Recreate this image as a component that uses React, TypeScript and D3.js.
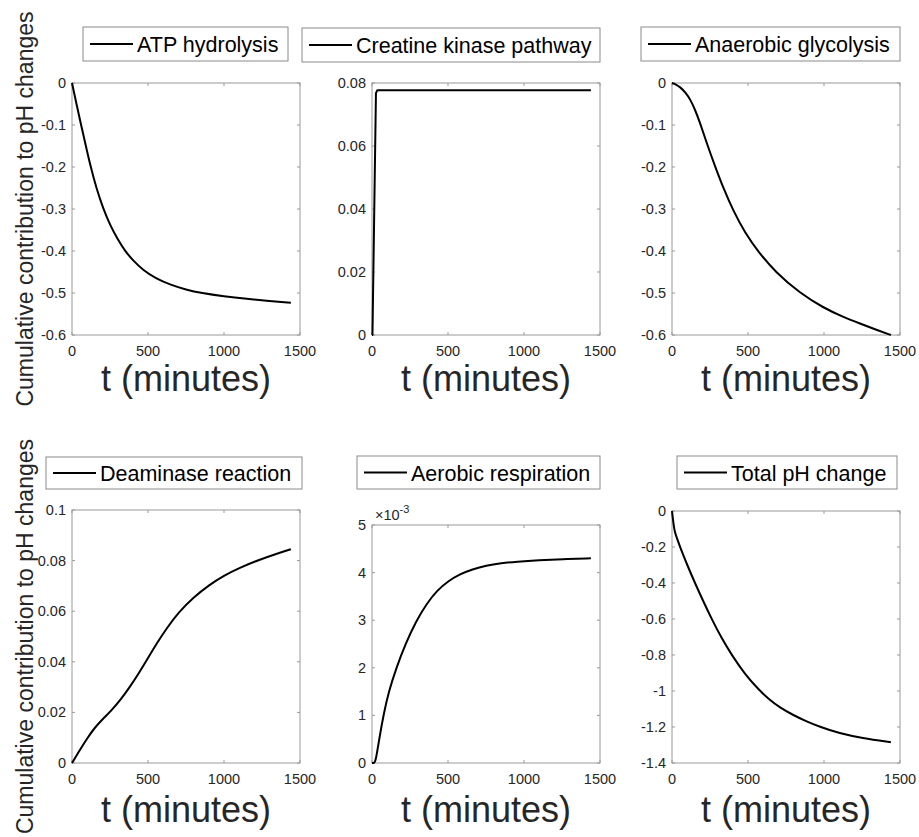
import React from "react";
import * as d3 from "d3";

// ---------- data ----------
const X_TICKS = [0, 500, 1000, 1500];

const T_ATP = [0, 30, 60, 90, 123, 160, 206, 250, 300, 349, 400, 469, 550, 650, 750, 850, 1000, 1150, 1300, 1440];
const V_ATP = [0, -0.051, -0.1, -0.148, -0.2, -0.25, -0.3, -0.338, -0.372, -0.4, -0.422, -0.446, -0.465, -0.481, -0.492, -0.5, -0.508, -0.514, -0.519, -0.523];
const Y_TICKS_ATP = [0, -0.1, -0.2, -0.3, -0.4, -0.5, -0.6];

const T_CK = [0, 3, 26, 35, 300, 700, 1100, 1440];
const V_CK = [0, 0, 0.0768, 0.0777, 0.0777, 0.0777, 0.0777, 0.0777];
const Y_TICKS_CK = [0, 0.02, 0.04, 0.06, 0.08];

const T_GLY = [0, 25, 55, 90, 120, 150, 185, 230, 285, 340, 400, 480, 570, 680, 840, 1000, 1120, 1240, 1340, 1440];
const V_GLY = [0, -0.003, -0.01, -0.023, -0.039, -0.062, -0.095, -0.145, -0.2, -0.252, -0.302, -0.357, -0.403, -0.45, -0.5, -0.536, -0.556, -0.573, -0.587, -0.6];
const Y_TICKS_GLY = [0, -0.1, -0.2, -0.3, -0.4, -0.5, -0.6];

const T_DEA = [0, 50, 100, 150, 200, 260, 320, 380, 440, 500, 560, 620, 700, 800, 900, 1000, 1100, 1230, 1340, 1440];
const V_DEA = [0, 0.005, 0.0098, 0.014, 0.0172, 0.0208, 0.025, 0.03, 0.0355, 0.0415, 0.0475, 0.053, 0.0595, 0.0655, 0.0703, 0.0741, 0.0771, 0.0803, 0.0826, 0.0845];
const Y_TICKS_DEA = [0, 0.02, 0.04, 0.06, 0.08, 0.1];

const T_AER = [0, 15, 25, 50, 75, 110, 160, 220, 290, 360, 430, 500, 580, 660, 750, 850, 950, 1100, 1250, 1440];
const V_AER = [0, 0, 0.00005, 0.00055, 0.001, 0.0015, 0.002, 0.0025, 0.00298, 0.00335, 0.00363, 0.00382, 0.00397, 0.00407, 0.00415, 0.0042, 0.00423, 0.00426, 0.00428, 0.0043];
const Y_TICKS_AER = [0, 0.001, 0.002, 0.003, 0.004, 0.005];

const T_TOT = [0, 8, 16, 22, 30, 53, 100, 151, 205, 261, 325, 393, 480, 568, 640, 711, 800, 880, 974, 1100, 1250, 1440];
const V_TOT = [0, -0.06, -0.105, -0.125, -0.145, -0.2, -0.3, -0.4, -0.5, -0.6, -0.705, -0.8, -0.907, -0.99, -1.048, -1.093, -1.135, -1.167, -1.2, -1.235, -1.262, -1.285];
const Y_TICKS_TOT = [0, -0.2, -0.4, -0.6, -0.8, -1, -1.2, -1.4];

const LEGEND_LABELS = [
  "ATP hydrolysis",
  "Creatine kinase pathway",
  "Anaerobic glycolysis",
  "Deaminase reaction",
  "Aerobic respiration",
  "Total pH change",
];
const Y_LABEL = "Cumulative contribution to pH changes";
const X_LABEL = "t (minutes)";

// ---------- layout ----------
const FONT = "'Liberation Sans', Arial, Helvetica, sans-serif";
const AX = "#9a9a9a";
const TXT = "#262626";

type PanelDef = {
  t: number[]; v: number[]; yTicks: number[]; label: string;
  left: number; right: number; top: number; bottom: number;
  leg: [number, number, number, number];
  yLabel: boolean; xLabelY: number; scale?: number; curve: any;
};

const PANELS: PanelDef[] = [
  { t: T_ATP, v: V_ATP, yTicks: Y_TICKS_ATP, label: LEGEND_LABELS[0], left: 72, right: 300, top: 83, bottom: 335, leg: [83, 27, 288, 61], yLabel: true, xLabelY: 391, curve: d3.curveBasis },
  { t: T_CK, v: V_CK, yTicks: Y_TICKS_CK, label: LEGEND_LABELS[1], left: 372, right: 600, top: 83, bottom: 335, leg: [302, 28, 600, 62], yLabel: false, xLabelY: 391, curve: d3.curveLinear },
  { t: T_GLY, v: V_GLY, yTicks: Y_TICKS_GLY, label: LEGEND_LABELS[2], left: 672, right: 900, top: 83, bottom: 335, leg: [641, 27, 900, 61], yLabel: false, xLabelY: 391, curve: d3.curveBasis },
  { t: T_DEA, v: V_DEA, yTicks: Y_TICKS_DEA, label: LEGEND_LABELS[3], left: 72, right: 300, top: 510, bottom: 763, leg: [46, 457, 302, 489], yLabel: true, xLabelY: 822, curve: d3.curveBasis },
  { t: T_AER, v: V_AER, yTicks: Y_TICKS_AER, label: LEGEND_LABELS[4], left: 372, right: 600, top: 525, bottom: 763, leg: [357, 456, 600, 489], yLabel: false, xLabelY: 822, scale: 1000, curve: d3.curveBasis },
  { t: T_TOT, v: V_TOT, yTicks: Y_TICKS_TOT, label: LEGEND_LABELS[5], left: 672, right: 900, top: 511, bottom: 763, leg: [677, 456, 897, 489], yLabel: false, xLabelY: 822, curve: d3.curveBasis },
];

const fmt = (v: number) => String(+v.toFixed(6));

function Panel({ p }: { p: PanelDef }) {
  const ext = d3.extent(p.yTicks) as [number, number];
  const x = d3.scaleLinear().domain([0, 1500]).range([p.left, p.right]);
  const y = d3.scaleLinear().domain(ext).range([p.bottom, p.top]);
  const line = d3
    .line<number>()
    .x((_, i) => x(p.t[i]))
    .y((d) => y(d))
    .curve(p.curve);
  const tl = 3;
  const [lx1, ly1, lx2, ly2] = p.leg;
  const lcy = (ly1 + ly2) / 2;
  const cx = (p.left + p.right) / 2;
  const cy = (p.top + p.bottom) / 2;
  return (
    <g>
      <rect x={p.left} y={p.top} width={p.right - p.left} height={p.bottom - p.top} fill="white" stroke={AX} strokeWidth={1} />
      {X_TICKS.map((v) => (
        <g key={"x" + v}>
          <line x1={x(v)} x2={x(v)} y1={p.bottom} y2={p.bottom - tl} stroke={AX} />
          <line x1={x(v)} x2={x(v)} y1={p.top} y2={p.top + tl} stroke={AX} />
          <text x={x(v)} y={p.bottom + 21} textAnchor="middle" fontSize={14.5} fill={TXT} fontFamily={FONT}>{fmt(v)}</text>
        </g>
      ))}
      {p.yTicks.map((v) => (
        <g key={"y" + v}>
          <line x1={p.left} x2={p.left + tl} y1={y(v)} y2={y(v)} stroke={AX} />
          <line x1={p.right} x2={p.right - tl} y1={y(v)} y2={y(v)} stroke={AX} />
          <text x={p.left - 6} y={y(v) + 5} textAnchor="end" fontSize={14.5} fill={TXT} fontFamily={FONT}>{fmt(p.scale ? v * p.scale : v)}</text>
        </g>
      ))}
      {p.scale ? (
        <text x={p.left + 3} y={p.top - 5} fontSize={14.5} fill={TXT} fontFamily={FONT}>
          ×10<tspan dy={-7} fontSize={11}>-3</tspan>
        </text>
      ) : null}
      <path d={line(p.v) || ""} fill="none" stroke="black" strokeWidth={2} strokeLinejoin="round" />
      <rect x={lx1} y={ly1} width={lx2 - lx1} height={ly2 - ly1} fill="white" stroke="#8a8a8a" strokeWidth={1} />
      <line x1={lx1 + 7} x2={lx1 + 50} y1={lcy} y2={lcy} stroke="black" strokeWidth={2} />
      <text x={lx1 + 54} y={lcy + 8} fontSize={21.5} fill="black" fontFamily={FONT}>{p.label}</text>
      <text x={cx} y={p.xLabelY} textAnchor="middle" fontSize={36} fill={TXT} fontFamily={FONT}>{X_LABEL}</text>
      {p.yLabel ? (
        <text transform={`translate(33,${cy}) rotate(-90)`} textAnchor="middle" fontSize={23} fill={TXT} fontFamily={FONT}>{Y_LABEL}</text>
      ) : null}
    </g>
  );
}

export default function App() {
  return (
    <svg width={919} height={837} style={{ position: "absolute", left: 0, top: 0, background: "white" }}>
      <rect x={0} y={0} width={919} height={837} fill="white" />
      {PANELS.map((p, i) => (
        <Panel key={i} p={p} />
      ))}
    </svg>
  );
}
